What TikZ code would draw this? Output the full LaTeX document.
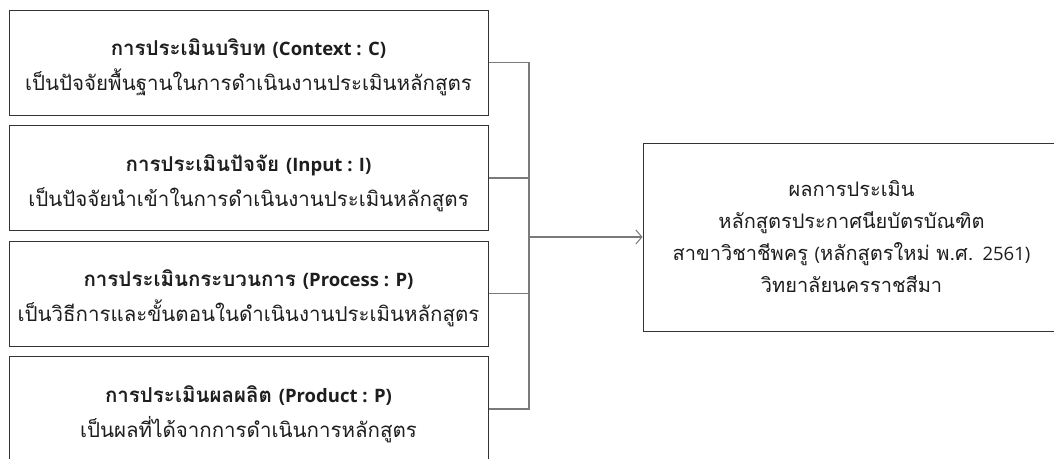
\documentclass[tikz,border=0pt]{standalone}
\usepackage{fontspec}
\usetikzlibrary{arrows.meta}
\newfontfamily\thaifont[Script=Thai]{Loma}
\newfontfamily\latfont{Open Sans}
\newcommand{\lat}[1]{{\latfont\fontsize{18.5}{18.5}\selectfont #1}}
\newcommand{\boxtext}[2]{\parbox[c][105pt][c]{479pt}{\centering\vspace*{10pt}{\bfseries #1}\\#2}}
\definecolor{boxc}{HTML}{333333}
\definecolor{linec}{HTML}{7A7A7A}
\definecolor{txtc}{HTML}{1E1E1E}
\begin{document}
\begin{tikzpicture}[x=1pt,y=-1pt,
  box/.style={draw=boxc, line width=1pt, inner sep=0pt, text=txtc,
    font=\fontsize{20.5}{35}\selectfont\thaifont},
  resbox/.style={draw=boxc, line width=1pt, minimum width=417pt, minimum height=188pt,
    align=center, inner sep=0pt, text=txtc, font=\fontsize{20}{32}\selectfont\thaifont},
  conn/.style={draw=linec, line width=1.2pt}]
\useasboundingbox[fill=white] (0,0) rectangle (1054,458);
\node[box] (ctx) at (248.5,62.5) {\boxtext{การประเมินบริบท \lat{(Context : C)}}{เป็นปัจจัยพื้นฐานในการดำเนินงานประเมินหลักสูตร}};
\node[box] (inp) at (248.5,178) {\boxtext{การประเมินปัจจัย \lat{(Input : I)}}{เป็นปัจจัยนำเข้าในการดำเนินงานประเมินหลักสูตร}};
\node[box] (prc) at (248.5,293.5) {\boxtext{การประเมินกระบวนการ \lat{(Process : P)}}{เป็นวิธีการและขั้นตอนในดำเนินงานประเมินหลักสูตร}};
\node[box] (prd) at (248.5,409) {\boxtext{การประเมินผลผลิต \lat{(Product : P)}}{เป็นผลที่ได้จากการดำเนินการหลักสูตร}};
\node[resbox] (res) at (851.5,237) {ผลการประเมิน\\หลักสูตรประกาศนียบัตรบัณฑิต\\สาขาวิชาชีพครู \lat{(}หลักสูตรใหม่ พ.ศ. \lat{2561)}\\วิทยาลัยนครราชสีมา};
\coordinate (jn) at (529,237);
\draw[conn] (ctx.east) -- (ctx.east -| jn) -- (prd.east -| jn) -- (prd.east);
\draw[conn] (inp.east) -- (inp.east -| jn);
\draw[conn] (prc.east) -- (prc.east -| jn);
\draw[conn, -{Straight Barb[length=6pt,width=14pt,line width=1pt]}] (jn) -- (res.west);
\end{tikzpicture}
\end{document}
